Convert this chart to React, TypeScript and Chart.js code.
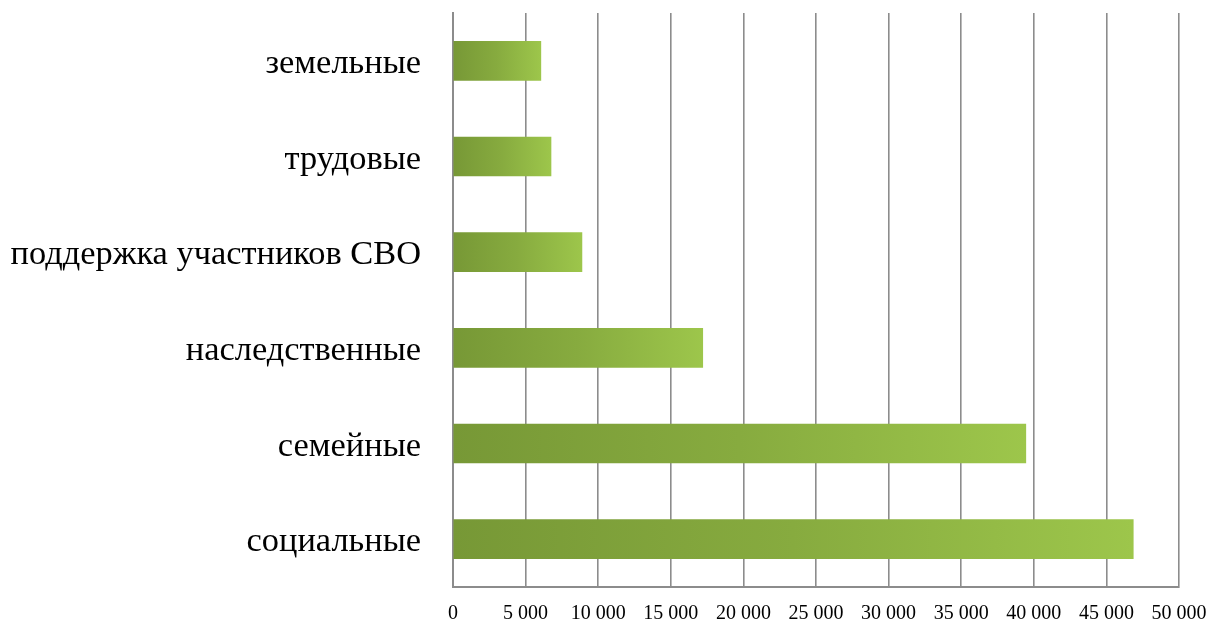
import React, { useEffect, useRef } from "react";
import { Chart, registerables } from "chart.js";

Chart.register(...registerables);

const categories = [
  "земельные",
  "трудовые",
  "поддержка участников СВО",
  "наследственные",
  "семейные",
  "социальные",
];
const values = [6050, 6750, 8880, 17200, 39450, 46850];
const xMin = 0;
const xMax = 50000;
const xStep = 5000;

const formatTick = (v: number) =>
  String(v).replace(/\B(?=(\d{3})+(?!\d))/g, " ");

export default function App() {
  const ref = useRef<HTMLCanvasElement | null>(null);

  useEffect(() => {
    document.body.style.margin = "0";
    const canvas = ref.current;
    if (!canvas) return;
    const chart = new Chart(canvas, {
      type: "bar",
      data: {
        labels: categories,
        datasets: [
          {
            data: values,
            barThickness: 39,
            borderWidth: 0,
            backgroundColor: (c: any) => {
              const ch = c.chart;
              const sx = ch.scales && ch.scales.x;
              if (!sx || c.raw == null) return "#8cad44";
              const x0 = sx.getPixelForValue(0);
              const x1 = sx.getPixelForValue(c.raw);
              if (!isFinite(x0) || !isFinite(x1) || x1 <= x0) return "#8cad44";
              const g = ch.ctx.createLinearGradient(x0, 0, x1, 0);
              g.addColorStop(0, "#779836");
              g.addColorStop(0.5, "#87ab3f");
              g.addColorStop(1, "#9dc64b");
              return g;
            },
          },
        ],
      },
      options: {
        indexAxis: "y",
        animation: false,
        responsive: false,
        maintainAspectRatio: false,
        layout: { padding: { top: 13, right: 0, left: 0, bottom: 0 } },
        plugins: {
          legend: { display: false },
          tooltip: { enabled: false },
        },
        scales: {
          x: {
            min: xMin,
            max: xMax,
            afterFit: (s: any) => {
              s.height = 37;
              s.paddingRight = 40;
            },
            ticks: {
              stepSize: xStep,
              color: "#000",
              padding: 17,
              font: { family: "'Liberation Serif', serif", size: 20, lineHeight: 1 },
              callback: (v: any) => formatTick(Number(v)),
            },
            grid: {
              color: "#8c8c8c",
              lineWidth: 1.6,
              drawTicks: false,
            },
            border: { display: true, color: "#8c8c8c", width: 2 },
          },
          y: {
            afterFit: (s: any) => {
              s.width = 453;
              s.paddingTop = 0;
              s.paddingBottom = 0;
            },
            ticks: {
              color: "#000",
              padding: 32,
              labelOffset: 3,
              font: { family: "'Liberation Serif', serif", size: 34.4, lineHeight: 1 },
            },
            grid: { display: false, drawTicks: false },
            border: { display: true, color: "#8c8c8c", width: 2 },
          },
        },
      },
    } as any);
    return () => chart.destroy();
  }, []);

  return (
    <div style={{ width: 1219, height: 624 }}>
      <canvas ref={ref} width={1219} height={624} />
    </div>
  );
}
